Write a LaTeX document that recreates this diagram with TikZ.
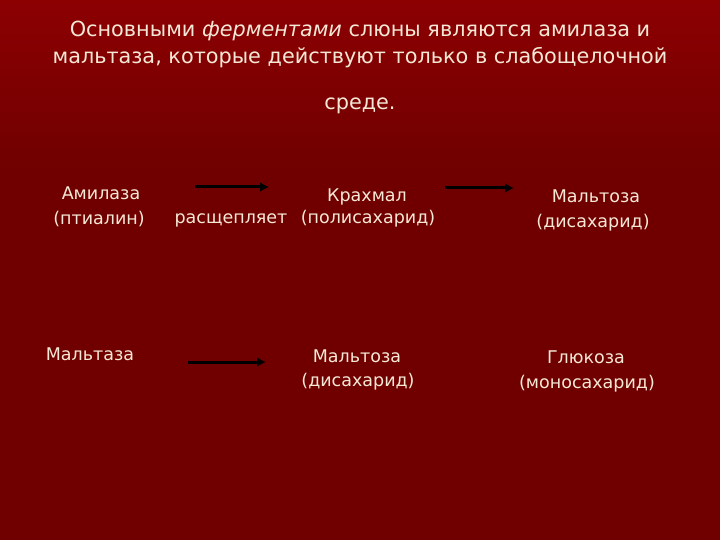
\documentclass[tikz,border=0pt]{standalone}
\usepackage{fontspec}
\setmainfont{DejaVu Sans}
\usetikzlibrary{arrows.meta}

\definecolor{slidebg}{RGB}{112,0,0}
\definecolor{slidetop}{RGB}{140,0,2}
\definecolor{slidetext}{RGB}{245,232,214}

\tikzset{
  titleline/.style={anchor=base, text=slidetext, inner sep=0pt,
    font=\fontsize{20.8}{24}\selectfont},
  cell/.style={anchor=base, text=slidetext, inner sep=0pt,
    font=\fontsize{17.5}{20}\selectfont},
  reaction/.style={line width=3pt, -{Latex[length=9pt,width=10pt]}},
}

\begin{document}
\begin{tikzpicture}[x=1pt,y=-1pt]

  % Hintergrund
  \fill[slidebg] (0,0) rectangle (720,540);
  \shade[top color=slidetop, bottom color=slidebg] (0,0) rectangle (720,170);

  % Überschrift
  \node[titleline] (t1) at (360,37) {Основными \emph{ферментами} слюны являются амилаза и};
  \node[titleline] (t2) at (360,64) {мальтаза, которые действуют только в слабощелочной};
  \node[titleline] (t3) at (360,110) {среде.};

  % erste Zeile
  \node[cell] (amyl) at (101,200) {Амилаза};
  \node[cell] (ptyal) at (99,225) {(птиалин)};
  \node[cell] (split) at (231,223) {расщепляет};
  \node[cell] (starch) at (367,202) {Крахмал};
  \node[cell] (poly) at (368,223) {(полисахарид)};
  \node[cell] (malt1) at (596,203) {Мальтоза};
  \node[cell] (di1) at (593,227) {(дисахарид)};

  % zweite Zeile
  \node[cell] (maltase) at (90,360) {Мальтаза};
  \node[cell] (malt2) at (357,362) {Мальтоза};
  \node[cell] (di2) at (358,386) {(дисахарид)};
  \node[cell] (gluc) at (586,363) {Глюкоза};
  \node[cell] (mono) at (587,388) {(моносахарид)};

  % Pfeile
  \coordinate (a1s) at (195,187);
  \coordinate (a1e) at (269,187);
  \coordinate (a2s) at (445,188);
  \coordinate (a2e) at (514,188);
  \coordinate (a3s) at (188,362);
  \coordinate (a3e) at (266,362);
  \draw[reaction] (a1s) -- (a1e);
  \draw[reaction] (a2s) -- (a2e);
  \draw[reaction] (a3s) -- (a3e);

\end{tikzpicture}
\end{document}
